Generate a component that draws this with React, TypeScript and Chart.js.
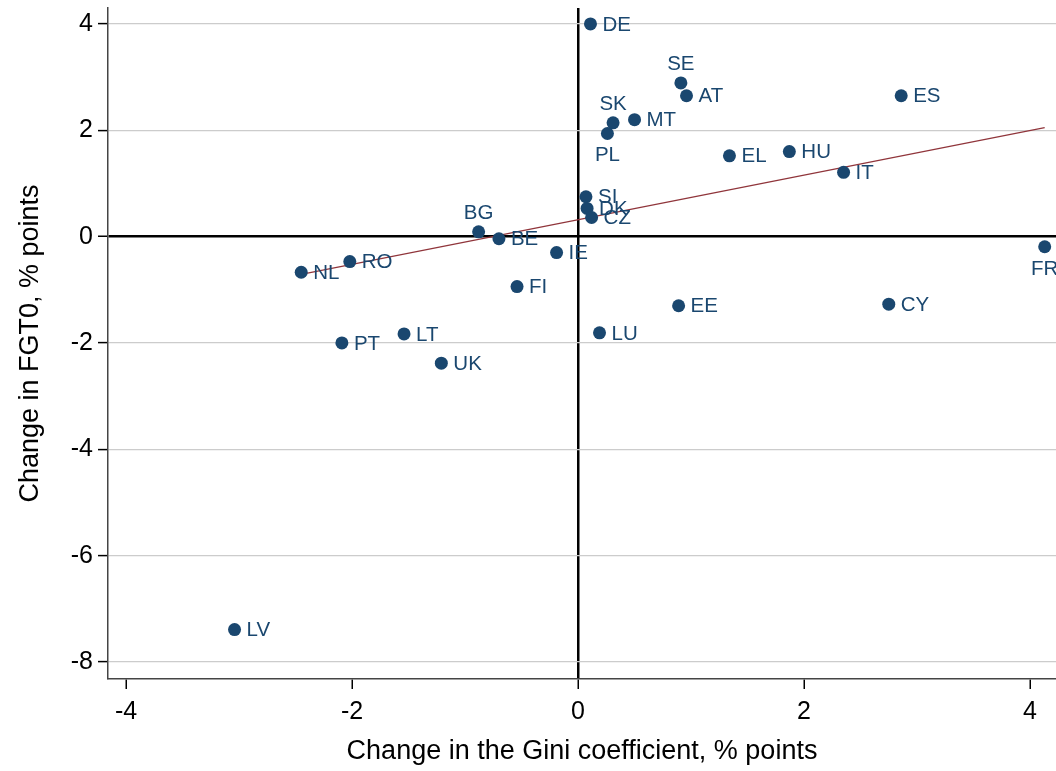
import React, { useEffect, useRef } from "react";
import { Chart, registerables } from "chart.js";

Chart.register(...registerables);

const countries = ["DE", "SE", "AT", "ES", "SK", "MT", "PL", "EL", "HU", "IT", "SI", "DK", "CZ", "BG", "BE", "IE", "FR", "RO", "NL", "FI", "EE", "CY", "LT", "LU", "PT", "UK", "LV"];
const giniChange = [0.11, 0.91, 0.96, 2.86, 0.31, 0.50, 0.26, 1.34, 1.87, 2.35, 0.07, 0.08, 0.12, -0.88, -0.70, -0.19, 4.13, -2.02, -2.45, -0.54, 0.89, 2.75, -1.54, 0.19, -2.09, -1.21, -3.04];
const fgt0Change = [4.0, 2.89, 2.65, 2.65, 2.14, 2.20, 1.94, 1.52, 1.60, 1.21, 0.75, 0.53, 0.36, 0.09, -0.04, -0.30, -0.19, -0.47, -0.67, -0.94, -1.30, -1.27, -1.83, -1.81, -2.00, -2.38, -7.39];
const labelPosition = ["r", "t", "r", "r", "t", "r", "b", "r", "r", "r", "r", "r", "r", "t", "r", "r", "b", "r", "r", "r", "r", "r", "r", "r", "r", "r", "r"];
const fitLineX = [-2.45, 4.13];
const fitLineY = [-0.71, 2.05];

const FONT = "'Liberation Sans', Arial, Helvetica, sans-serif";
const NAVY = "#1a476f";

const labelPlugin = {
  id: "pointLabels",
  afterDatasetsDraw(chart: any) {
    const ctx = chart.ctx;
    const meta = chart.getDatasetMeta(0);
    ctx.save();
    ctx.font = `20.5px ${FONT}`;
    ctx.fillStyle = NAVY;
    meta.data.forEach((el: any, i: number) => {
      const { x, y } = el.getProps(["x", "y"], true);
      const pos = labelPosition[i];
      if (pos === "t") {
        ctx.textAlign = "center";
        ctx.textBaseline = "bottom";
        ctx.fillText(countries[i], x, y - 8);
      } else if (pos === "b") {
        ctx.textAlign = "center";
        ctx.textBaseline = "top";
        ctx.fillText(countries[i], x, y + 12);
      } else {
        ctx.textAlign = "left";
        ctx.textBaseline = "middle";
        ctx.fillText(countries[i], x + 12, y + 1);
      }
    });
    ctx.restore();
  },
};

export default function App() {
  const ref = useRef<HTMLCanvasElement | null>(null);
  useEffect(() => {
    if (!ref.current) return;
    const chart = new Chart(ref.current, {
      type: "scatter",
      data: {
        datasets: [
          {
            label: "countries",
            data: giniChange.map((g, i) => ({ x: g, y: fgt0Change[i] })),
            backgroundColor: NAVY,
            borderColor: NAVY,
            pointRadius: 6.5,
            pointBorderWidth: 0,
            order: 1,
          },
          {
            type: "line",
            label: "fit",
            data: fitLineX.map((x, i) => ({ x, y: fitLineY[i] })),
            borderColor: "#90353b",
            borderWidth: 1.2,
            pointRadius: 0,
            fill: false,
            order: 2,
          } as any,
        ],
      },
      options: {
        animation: false,
        responsive: false,
        devicePixelRatio: 1,
        layout: { autoPadding: false, padding: { top: 8, right: 0, left: 0, bottom: 0 } },
        plugins: { legend: { display: false }, tooltip: { enabled: false } },
        scales: {
          x: {
            type: "linear",
            position: "bottom",
            min: -4.16,
            max: 4.23,
            ticks: {
              stepSize: 2,
              includeBounds: false,
              color: "#000",
              font: { family: FONT, size: 25 },
              padding: 8,
              maxRotation: 0,
            },
            grid: {
              color: (c: any) => (c.tick && c.tick.value === 0 ? "#000" : "rgba(0,0,0,0)"),
              lineWidth: 2.5,
              tickColor: "#000",
              tickWidth: 1.5,
              tickLength: 10,
            },
            border: { display: true, color: "#444", width: 1.5 },
            title: {
              display: true,
              text: "Change in the Gini coefficient, % points",
              color: "#000",
              font: { family: FONT, size: 27 },
              padding: { top: 0, bottom: 3 },
            },
            afterFit: (s: any) => {
              s.height = 92;
              s.paddingLeft = 0;
              s.paddingRight = 0;
            },
          },
          y: {
            type: "linear",
            min: -8.32,
            max: 4.3,
            ticks: {
              stepSize: 2,
              includeBounds: false,
              color: "#000",
              font: { family: FONT, size: 25 },
              padding: 5,
            },
            grid: {
              color: (c: any) => (c.tick && c.tick.value === 0 ? "#000" : "#cccccc"),
              lineWidth: (c: any) => (c.tick && c.tick.value === 0 ? 2.5 : 1.2),
              tickColor: "#000",
              tickWidth: 1.5,
              tickLength: 10,
            },
            border: { display: true, color: "#444", width: 1.5 },
            title: {
              display: true,
              text: "Change in FGT0, % points",
              color: "#000",
              font: { family: FONT, size: 27 },
              padding: { top: 14, bottom: 0 },
            },
            afterFit: (s: any) => {
              s.width = 108;
              s.paddingTop = 0;
              s.paddingBottom = 0;
            },
          },
        },
      },
      plugins: [labelPlugin],
    });
    return () => chart.destroy();
  }, []);
  return (
    <div style={{ position: "absolute", left: 0, top: 0, width: 1056, height: 771, background: "#fff", overflow: "hidden" }}>
      <canvas ref={ref} width={1056} height={771} />
    </div>
  );
}
